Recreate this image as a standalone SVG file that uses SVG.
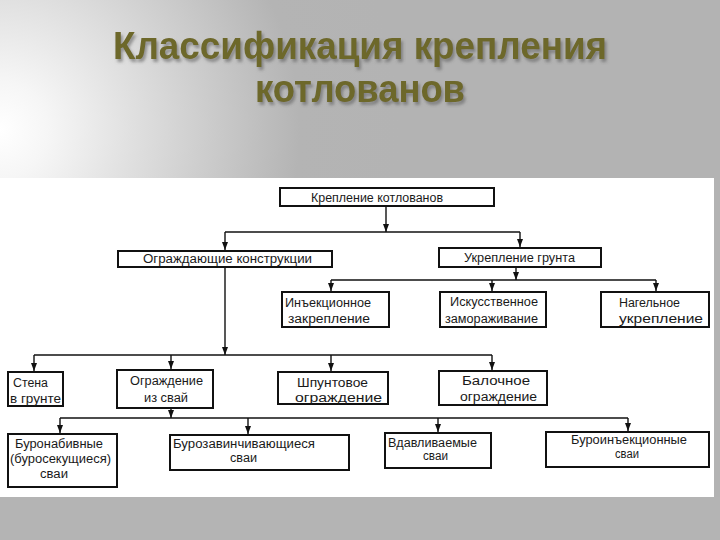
<svg xmlns="http://www.w3.org/2000/svg" width="720" height="540" viewBox="0 0 720 540">
<defs>
<radialGradient id="bg" gradientUnits="userSpaceOnUse" cx="0" cy="130" r="400">
<stop offset="0" stop-color="#ffffff"/>
<stop offset="0.12" stop-color="#f6f6f6"/>
<stop offset="0.75" stop-color="#b4b4b4"/>
<stop offset="1" stop-color="#b3b3b3"/>
</radialGradient>
<filter id="sh" x="-10%" y="-30%" width="120%" height="160%">
<feDropShadow dx="2" dy="3" stdDeviation="1.5" flood-color="#555555" flood-opacity="0.55"/>
</filter>
<marker id="ar" viewBox="0 0 8 6" refX="8" refY="3" markerWidth="8" markerHeight="6" markerUnits="userSpaceOnUse" orient="auto">
<path d="M0,0 L8,3 L0,6 Z" fill="#111"/>
</marker>
</defs>
<style>
.box{fill:#fff;stroke:#111;stroke-width:2}
.t{font-family:"Liberation Sans",Arial,sans-serif;font-size:12px;fill:#1a1a1a}
.c{fill:none;stroke:#111;stroke-width:1.4}
.a{fill:none;stroke:#111;stroke-width:1.4;marker-end:url(#ar)}
.title{font-family:"Liberation Sans",Arial,sans-serif;font-weight:bold;font-size:38px;fill:#6d672c}
</style>
<rect x="0" y="0" width="720" height="540" fill="url(#bg)"/>
<rect x="0" y="497" width="720" height="43" fill="#b4b4b4"/>
<g id="title" filter="url(#sh)">
<text class="title" x="113" y="59" textLength="494" lengthAdjust="spacingAndGlyphs">Классификация крепления</text>
<text class="title" x="255" y="102" textLength="210" lengthAdjust="spacingAndGlyphs">котлованов</text>
</g>
<rect x="0" y="178" width="714" height="319" fill="#ffffff"/>
<g id="connectors">
<path class="a" d="M386,207 V232"/>
<path class="c" d="M225,232 H520"/>
<path class="a" d="M225,232 V250"/>
<path class="a" d="M520,232 V247"/>
<path class="a" d="M516,267 V280"/>
<path class="c" d="M331,280 H656"/>
<path class="a" d="M331,280 V291"/>
<path class="a" d="M492,280 V291"/>
<path class="a" d="M656,280 V291"/>
<path class="a" d="M225,267 V355"/>
<path class="c" d="M34,355 H492"/>
<path class="a" d="M34,355 V371"/>
<path class="a" d="M171,355 V369"/>
<path class="a" d="M331,355 V371"/>
<path class="a" d="M492,355 V370"/>
<path class="a" d="M171,408 V418"/>
<path class="c" d="M60,418 H628"/>
<path class="a" d="M60,418 V433"/>
<path class="a" d="M248,418 V434"/>
<path class="a" d="M438,418 V432"/>
<path class="a" d="M628,418 V431"/>
</g>
<g id="n1"><rect class="box" x="280" y="188" width="214" height="18"/><text class="t" x="311" y="202" textLength="132" lengthAdjust="spacingAndGlyphs">Крепление котлованов</text></g>
<g id="n2"><rect class="box" x="118" y="251" width="214" height="16"/><text class="t" x="143" y="263" textLength="169" lengthAdjust="spacingAndGlyphs">Ограждающие конструкции</text></g>
<g id="n3"><rect class="box" x="439" y="248" width="162" height="19"/><text class="t" x="464" y="262" textLength="111" lengthAdjust="spacingAndGlyphs">Укрепление грунта</text></g>
<g id="n4"><rect class="box" x="282" y="292" width="107" height="35"/><text class="t" x="285" y="307" textLength="86" lengthAdjust="spacingAndGlyphs">Инъекционное</text><text class="t" x="288" y="323" textLength="82" lengthAdjust="spacingAndGlyphs">закрепление</text></g>
<g id="n5"><rect class="box" x="440" y="292" width="106" height="35"/><text class="t" x="450" y="306" textLength="88" lengthAdjust="spacingAndGlyphs">Искусственное</text><text class="t" x="445" y="323" textLength="93" lengthAdjust="spacingAndGlyphs">замораживание</text></g>
<g id="n6"><rect class="box" x="601" y="292" width="108" height="35"/><text class="t" x="619" y="307" textLength="61" lengthAdjust="spacingAndGlyphs">Нагельное</text><text class="t" x="619" y="323" textLength="84" lengthAdjust="spacingAndGlyphs">укрепление</text></g>
<g id="n7"><rect class="box" x="8" y="372" width="55" height="34"/><text class="t" x="13" y="387" textLength="35" lengthAdjust="spacingAndGlyphs">Стена</text><text class="t" x="10" y="403" textLength="51" lengthAdjust="spacingAndGlyphs">в грунте</text></g>
<g id="n8"><rect class="box" x="117" y="370" width="96" height="38"/><text class="t" x="130" y="385" textLength="73" lengthAdjust="spacingAndGlyphs">Ограждение</text><text class="t" x="144" y="402" textLength="44" lengthAdjust="spacingAndGlyphs">из свай</text></g>
<g id="n9"><rect class="box" x="278" y="372" width="110" height="32"/><text class="t" x="297" y="387" textLength="71" lengthAdjust="spacingAndGlyphs">Шпунтовое</text><text class="t" x="295" y="402" textLength="87" lengthAdjust="spacingAndGlyphs">ограждение</text></g>
<g id="n10"><rect class="box" x="439" y="371" width="108" height="34"/><text class="t" x="462" y="385" textLength="68" lengthAdjust="spacingAndGlyphs">Балочное</text><text class="t" x="460" y="401" textLength="77" lengthAdjust="spacingAndGlyphs">ограждение</text></g>
<g id="n11"><rect class="box" x="8" y="434" width="109" height="53"/><text class="t" x="15" y="448" textLength="88" lengthAdjust="spacingAndGlyphs">Буронабивные</text><text class="t" x="10" y="463" textLength="101" lengthAdjust="spacingAndGlyphs">(буросекущиеся)</text><text class="t" x="40" y="478" textLength="28" lengthAdjust="spacingAndGlyphs">сваи</text></g>
<g id="n12"><rect class="box" x="170" y="435" width="179" height="35"/><text class="t" x="173" y="448" textLength="142" lengthAdjust="spacingAndGlyphs">Бурозавинчивающиеся</text><text class="t" x="230" y="462" textLength="27" lengthAdjust="spacingAndGlyphs">сваи</text></g>
<g id="n13"><rect class="box" x="385" y="433" width="106" height="35"/><text class="t" x="388" y="447" textLength="89" lengthAdjust="spacingAndGlyphs">Вдавливаемые</text><text class="t" x="423" y="460" textLength="25" lengthAdjust="spacingAndGlyphs">сваи</text></g>
<g id="n14"><rect class="box" x="546" y="432" width="163" height="35"/><text class="t" x="571" y="444" textLength="116" lengthAdjust="spacingAndGlyphs">Буроинъекционные</text><text class="t" x="615" y="458" textLength="24" lengthAdjust="spacingAndGlyphs">сваи</text></g>
</svg>
